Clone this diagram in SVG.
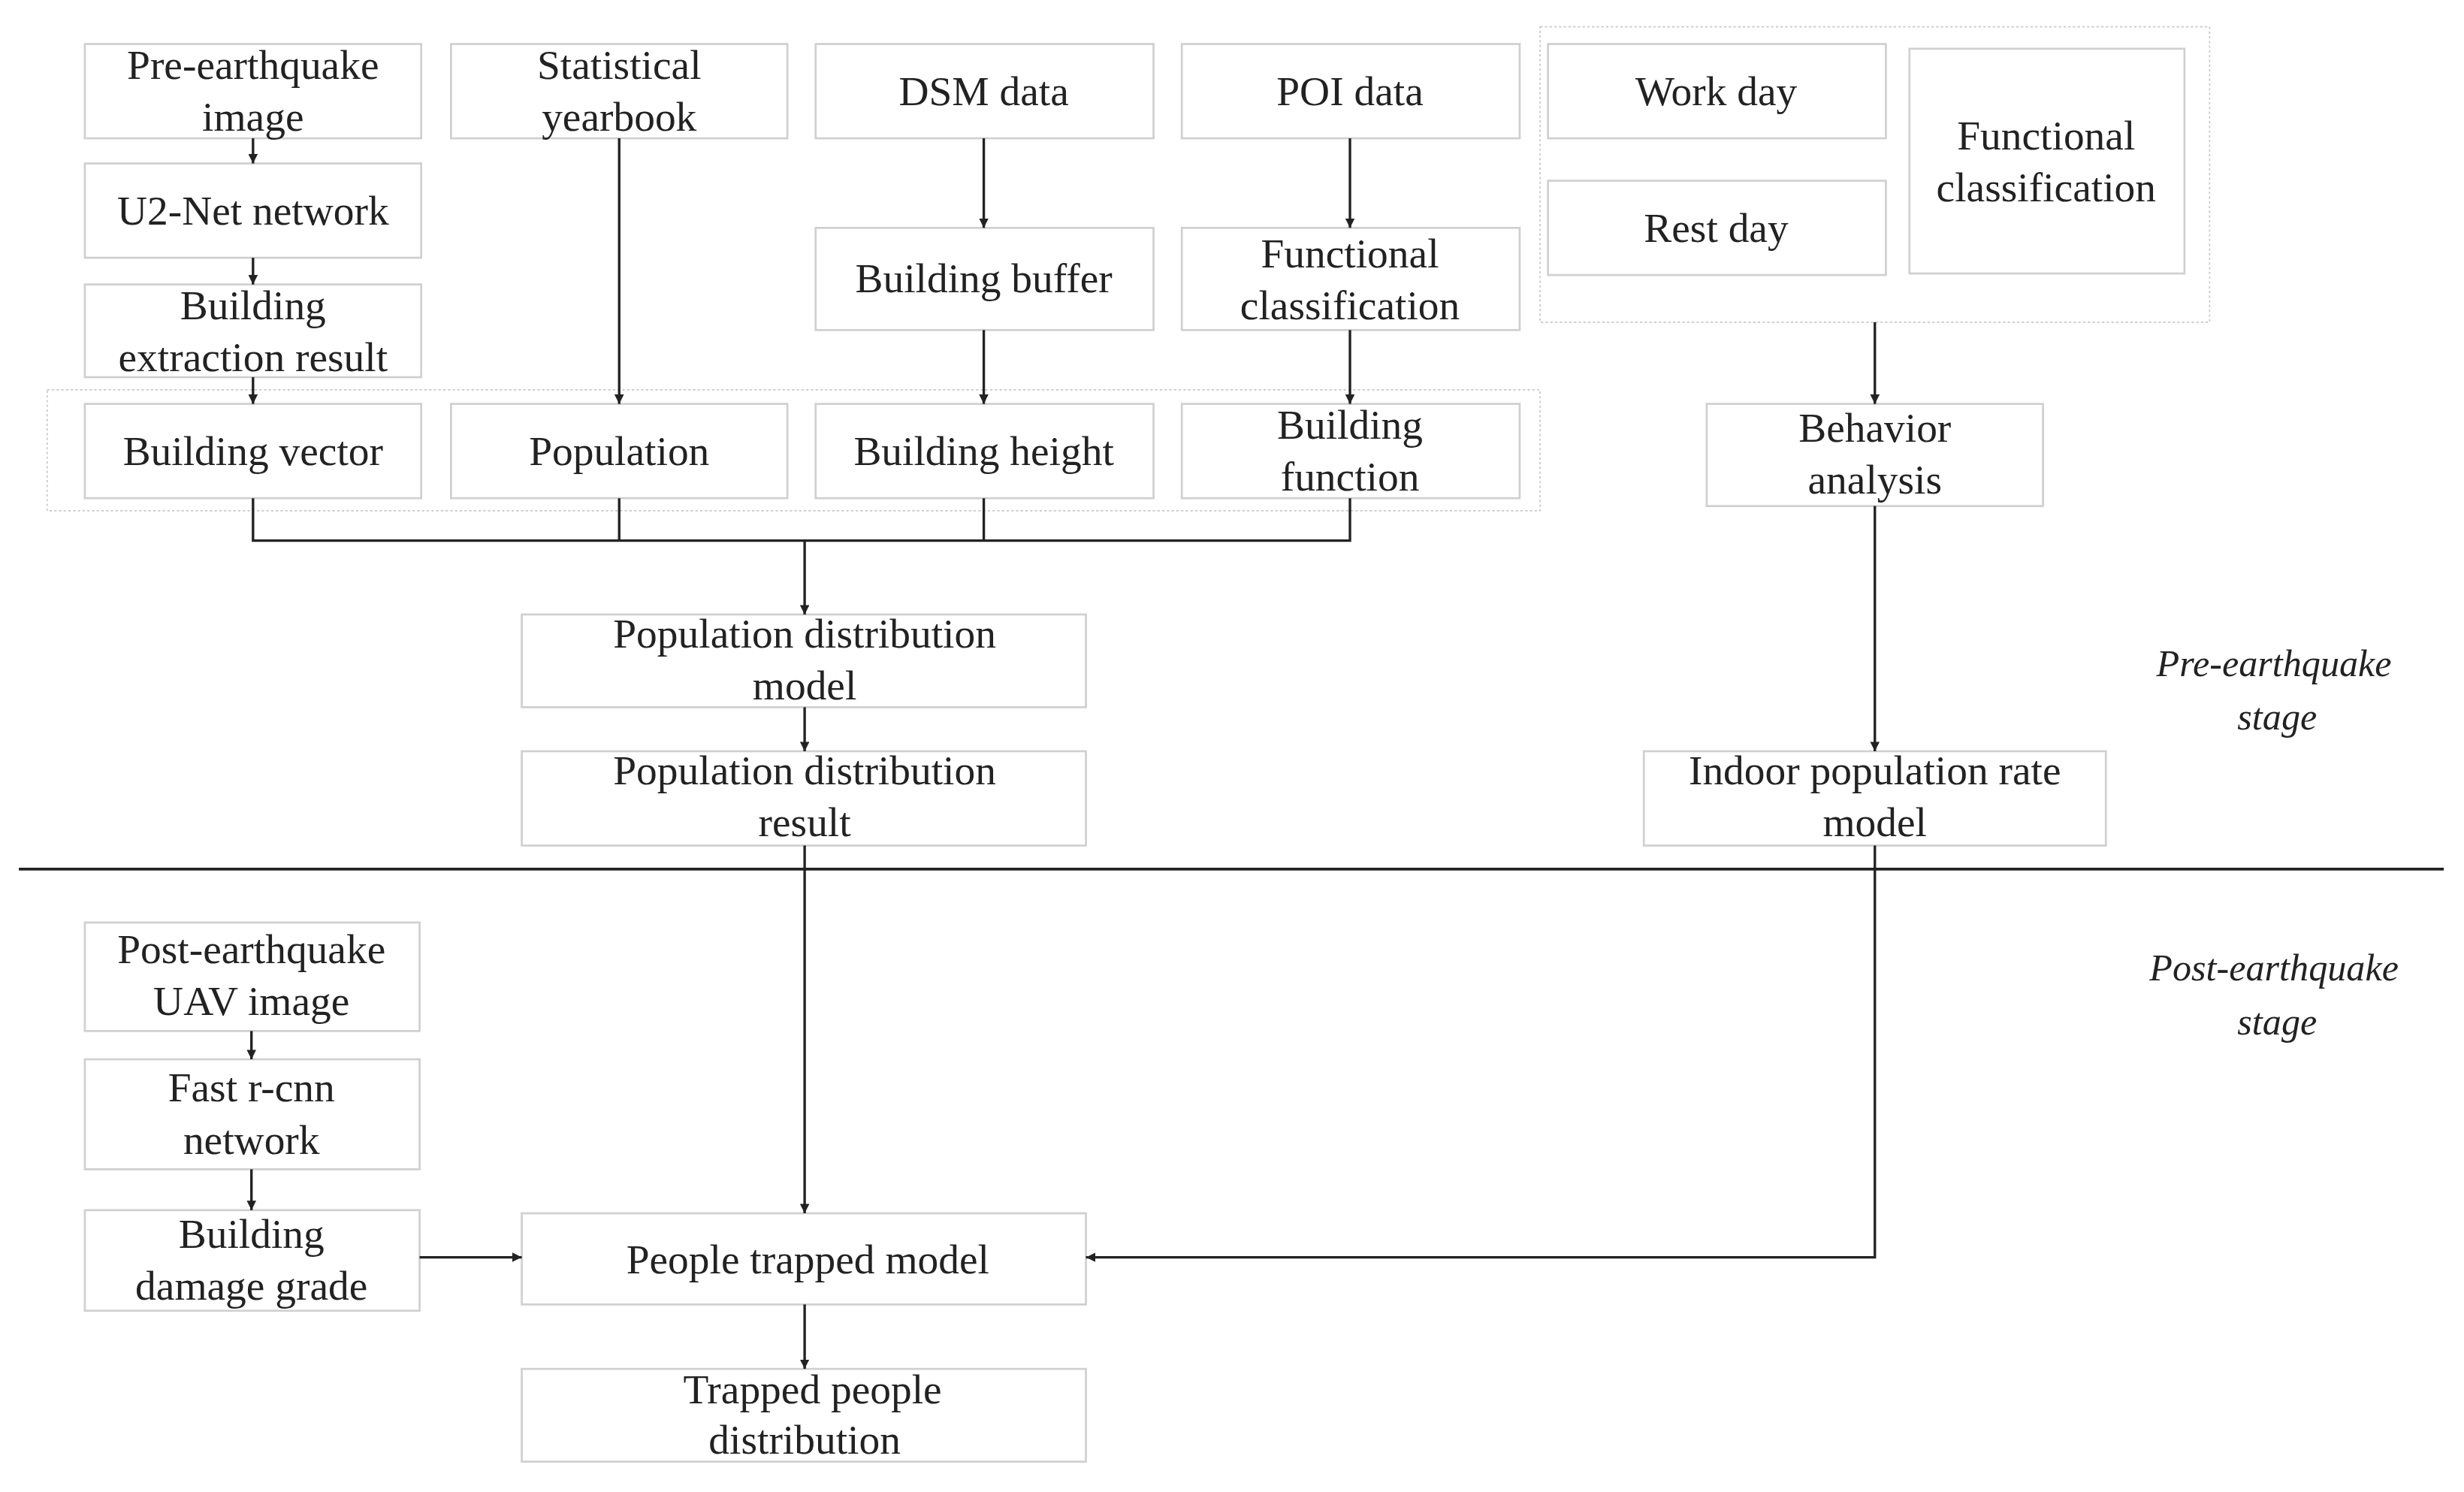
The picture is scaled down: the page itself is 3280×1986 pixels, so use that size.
<svg xmlns="http://www.w3.org/2000/svg" width="3280" height="1986" viewBox="0 0 3280 1986">
<style>
.b{fill:#fff;stroke:#d0d0d0;stroke-width:1.3}
.g{fill:none;stroke:#c8c8c8;stroke-width:0.8;stroke-dasharray:1.5 1.5}
.t{font-family:"Liberation Serif",serif;font-size:26.5px;fill:#222;text-anchor:middle}
.i{font-family:"Liberation Serif",serif;font-size:24px;font-style:italic;fill:#222;text-anchor:middle}
.c{fill:none;stroke:#222;stroke-width:1.6}
</style>
<defs><marker id="a" viewBox="0 0 10 10" refX="10" refY="5" markerWidth="6" markerHeight="6" markerUnits="userSpaceOnUse" orient="auto"><path d="M0,0L10,5L0,10z" fill="#222"/></marker></defs>
<rect width="3280" height="1986" fill="#fff"/>
<g transform="scale(2.092)">
<rect class="g" x="30" y="248" width="950" height="77"/>
<rect class="g" x="980" y="17" width="426" height="188"/>
<g id="n1"><rect class="b" x="54" y="28" width="214" height="60"/><text class="t" x="161" y="50">Pre-earthquake</text><text class="t" x="161" y="83">image</text></g>
<g id="n2"><rect class="b" x="287" y="28" width="214" height="60"/><text class="t" x="394" y="50">Statistical</text><text class="t" x="394" y="83">yearbook</text></g>
<g id="n3"><rect class="b" x="519" y="28" width="215" height="60"/><text class="t" x="626" y="67">DSM data</text></g>
<g id="n4"><rect class="b" x="752" y="28" width="215" height="60"/><text class="t" x="859" y="67">POI data</text></g>
<g id="n5"><rect class="b" x="54" y="104" width="214" height="60"/><text class="t" x="161" y="143">U2-Net network</text></g>
<g id="n6"><rect class="b" x="54" y="181" width="214" height="59"/><text class="t" x="161" y="203">Building</text><text class="t" x="161" y="236">extraction result</text></g>
<g id="n7"><rect class="b" x="519" y="145" width="215" height="65"/><text class="t" x="626" y="186">Building buffer</text></g>
<g id="n8"><rect class="b" x="752" y="145" width="215" height="65"/><text class="t" x="859" y="170">Functional</text><text class="t" x="859" y="203">classification</text></g>
<g id="n9"><rect class="b" x="54" y="257" width="214" height="60"/><text class="t" x="161" y="296">Building vector</text></g>
<g id="n10"><rect class="b" x="287" y="257" width="214" height="60"/><text class="t" x="394" y="296">Population</text></g>
<g id="n11"><rect class="b" x="519" y="257" width="215" height="60"/><text class="t" x="626" y="296">Building height</text></g>
<g id="n12"><rect class="b" x="752" y="257" width="215" height="60"/><text class="t" x="859" y="279">Building</text><text class="t" x="859" y="312">function</text></g>
<g id="n13"><rect class="b" x="985" y="28" width="215" height="60"/><text class="t" x="1092" y="67">Work day</text></g>
<g id="n14"><rect class="b" x="985" y="115" width="215" height="60"/><text class="t" x="1092" y="154">Rest day</text></g>
<g id="n15"><rect class="b" x="1215" y="31" width="175" height="143"/><text class="t" x="1302" y="95">Functional</text><text class="t" x="1302" y="128">classification</text></g>
<g id="n16"><rect class="b" x="1086" y="257" width="214" height="65"/><text class="t" x="1193" y="281">Behavior</text><text class="t" x="1193" y="314">analysis</text></g>
<g id="n17"><rect class="b" x="332" y="391" width="359" height="59"/><text class="t" x="512" y="412">Population distribution</text><text class="t" x="512" y="445">model</text></g>
<g id="n18"><rect class="b" x="332" y="478" width="359" height="60"/><text class="t" x="512" y="499">Population distribution</text><text class="t" x="512" y="532">result</text></g>
<g id="n19"><rect class="b" x="1046" y="478" width="294" height="60"/><text class="t" x="1193" y="499">Indoor population rate</text><text class="t" x="1193" y="532">model</text></g>
<g id="n20"><rect class="b" x="54" y="587" width="213" height="69"/><text class="t" x="160" y="613">Post-earthquake</text><text class="t" x="160" y="646">UAV image</text></g>
<g id="n21"><rect class="b" x="54" y="674" width="213" height="70"/><text class="t" x="160" y="701">Fast r-cnn</text><text class="t" x="160" y="734">network</text></g>
<g id="n22"><rect class="b" x="54" y="770" width="213" height="64"/><text class="t" x="160" y="794">Building</text><text class="t" x="160" y="827">damage grade</text></g>
<g id="n23"><rect class="b" x="332" y="772" width="359" height="58"/><text class="t" x="514" y="810">People trapped model</text></g>
<g id="n24"><rect class="b" x="332" y="871" width="359" height="59"/><text class="t" x="517" y="893">Trapped people</text><text class="t" x="512" y="925">distribution</text></g>
<g id="stages"><text class="i" x="1447" y="430">Pre-earthquake</text><text class="i" x="1449" y="464">stage</text><text class="i" x="1447" y="624">Post-earthquake</text><text class="i" x="1449" y="658">stage</text></g>
<g id="connectors">
<line x1="12" y1="553" x2="1555" y2="553" stroke="#222" stroke-width="1.8"/>
<path class="c" marker-end="url(#a)" d="M161,88V104"/>
<path class="c" marker-end="url(#a)" d="M161,164V181"/>
<path class="c" marker-end="url(#a)" d="M161,240V257"/>
<path class="c" marker-end="url(#a)" d="M394,88V257"/>
<path class="c" marker-end="url(#a)" d="M626,88V145"/>
<path class="c" marker-end="url(#a)" d="M626,210V257"/>
<path class="c" marker-end="url(#a)" d="M859,88V145"/>
<path class="c" marker-end="url(#a)" d="M859,210V257"/>
<path class="c" d="M161,317V344H859V317M394,317V344M626,317V344"/>
<path class="c" marker-end="url(#a)" d="M512,344V391"/>
<path class="c" marker-end="url(#a)" d="M512,450V478"/>
<path class="c" marker-end="url(#a)" d="M1193,205V257"/>
<path class="c" marker-end="url(#a)" d="M1193,322V478"/>
<path class="c" marker-end="url(#a)" d="M512,538V772"/>
<path class="c" marker-end="url(#a)" d="M1193,538V800H691"/>
<path class="c" marker-end="url(#a)" d="M160,656V674"/>
<path class="c" marker-end="url(#a)" d="M160,744V770"/>
<path class="c" marker-end="url(#a)" d="M267,800H332"/>
<path class="c" marker-end="url(#a)" d="M512,830V871"/>
</g>
</g>
</svg>
